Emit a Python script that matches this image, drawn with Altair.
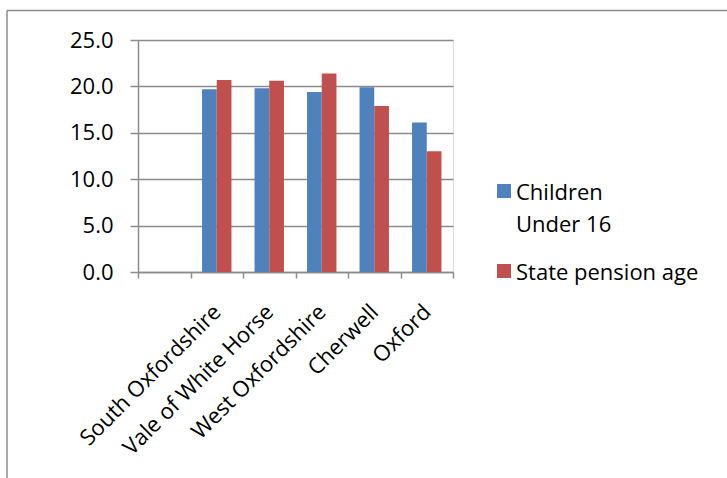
import altair as alt
import pandas as pd

# Share of population by district (%)
districts = ["South Oxfordshire", "Vale of White Horse", "West Oxfordshire", "Cherwell", "Oxford"]
children_under_16 = [19.7, 19.8, 19.4, 19.9, 16.1]
state_pension_age = [20.7, 20.6, 21.4, 17.9, 13.0]

series_names = ["Children Under 16", "State pension age"]
series_colors = ["#4F81BD", "#C0504D"]

# category slots on the x axis; the first one is left empty
axis_slots = [" "] + districts
y_ticks = [0, 5, 10, 15, 20, 25]

rows = []
for d, c, s in zip(districts, children_under_16, state_pension_age):
    rows.append({"district": d, "series": series_names[0], "value": c})
    rows.append({"district": d, "series": series_names[1], "value": s})
df = pd.DataFrame(rows)

FONT = "Open Sans"
LINE = "#8c8c8c"
# square legend swatch, dropped slightly so it sits level with the first text line
SWATCH = "M-1,0.14 L1,0.14 L1,2.14 L-1,2.14 Z"

bars = alt.Chart(df).mark_bar().encode(
    x=alt.X(
        "district:N",
        sort=axis_slots,
        scale=alt.Scale(domain=axis_slots, paddingInner=0, paddingOuter=0),
        axis=alt.Axis(
            title=None,
            labelAngle=-45,
            labelAlign="right",
            labelBaseline="top",
            labelOffset=-7,
            labelPadding=23,
            labelLimit=400,
            tickBand="extent",
            grid=False,
            domainColor=LINE,
            domainWidth=1.5,
            tickColor=LINE,
            tickWidth=1.5,
            tickSize=6,
            labelFont=FONT,
            labelFontSize=22,
            labelColor="black",
        ),
    ),
    xOffset=alt.XOffset(
        "series:N",
        sort=series_names,
        scale=alt.Scale(domain=series_names, paddingInner=0, paddingOuter=0.785),
    ),
    y=alt.Y(
        "value:Q",
        scale=alt.Scale(domain=[0, 25], nice=False),
        axis=alt.Axis(
            title=None,
            values=y_ticks,
            format=".1f",
            grid=True,
            gridColor=LINE,
            gridWidth=1.5,
            domainColor=LINE,
            domainWidth=1.5,
            tickColor=LINE,
            tickWidth=1.5,
            tickSize=8,
            labelPadding=17,
            labelFont=FONT,
            labelFontSize=22,
            labelColor="black",
        ),
    ),
    color=alt.Color(
        "series:N",
        sort=series_names,
        scale=alt.Scale(domain=series_names, range=series_colors),
        legend=alt.Legend(
            title=None,
            orient="none",
            legendX=355,
            legendY=132,
            symbolType=SWATCH,
            symbolSize=196,
            symbolStrokeWidth=0,
            labelFont=FONT,
            labelFontSize=22,
            labelColor="black",
            labelLimit=400,
            labelOffset=1,
            labelBaseline="top",
            labelExpr="datum.label == 'Children Under 16' ? ['Children', 'Under 16'] : datum.label",
            rowPadding=16,
        ),
    ),
)

# outer frame (left and top edges)
frame_df = pd.DataFrame({"k": [0]})
frame_left = alt.Chart(frame_df).mark_rule(color=LINE, strokeWidth=1.5).encode(
    x=alt.value(-131), y=alt.value(-29.5), y2=alt.value(440)
)
frame_top = alt.Chart(frame_df).mark_rule(color=LINE, strokeWidth=1.5).encode(
    x=alt.value(-131), x2=alt.value(600), y=alt.value(-29.5)
)

chart = (
    alt.layer(bars, frame_left, frame_top)
    .properties(
        width=315,
        height=232,
        padding={"left": 138, "top": 40, "right": 274, "bottom": 206},
        autosize=alt.AutoSizeParams(type="none"),
    )
    .configure_view(stroke="transparent")
    .configure(style={"guide-label": {"lineHeight": 32}})
)

chart.save("out.html", embed_options={"renderer": "svg", "actions": False})
